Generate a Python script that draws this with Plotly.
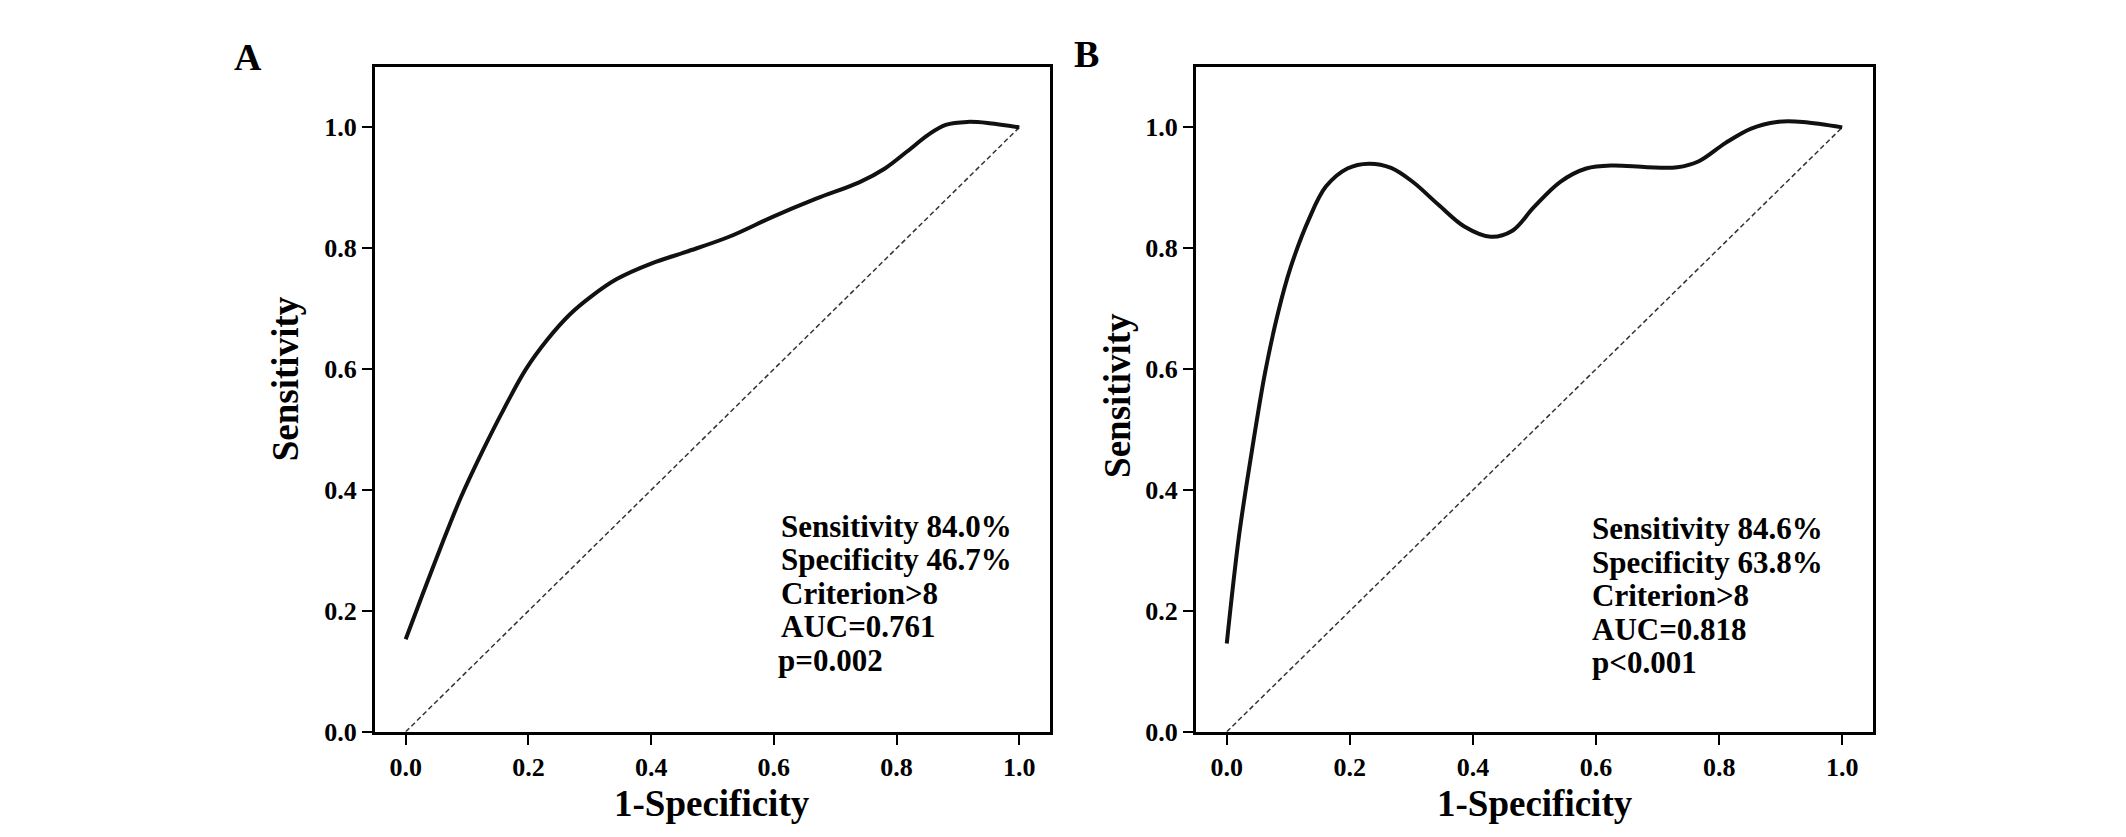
import plotly.graph_objects as go

W, H = 2126, 837

# ROC curve A
fpr_a = [0.0, 0.027, 0.062, 0.090, 0.126, 0.161, 0.196, 0.231, 0.267, 0.302, 0.344,
         0.401, 0.457, 0.527, 0.598, 0.669, 0.739, 0.781, 0.817, 0.852, 0.880,
         0.915, 0.951, 1.0]
tpr_a = [0.153, 0.226, 0.318, 0.388, 0.466, 0.536, 0.600, 0.649, 0.690, 0.720, 0.749,
         0.775, 0.794, 0.819, 0.852, 0.882, 0.909, 0.932, 0.960, 0.988, 1.004,
         1.009, 1.007, 1.0]

# ROC curve B
fpr_b = [0.0, 0.020, 0.041, 0.062, 0.083, 0.104, 0.133, 0.161, 0.196, 0.231, 0.267,
         0.302, 0.344, 0.386, 0.429, 0.464, 0.499, 0.542, 0.584, 0.626, 0.683,
         0.732, 0.767, 0.810, 0.852, 0.894, 0.936, 1.0]
tpr_b = [0.146, 0.325, 0.466, 0.593, 0.692, 0.769, 0.847, 0.902, 0.932, 0.940, 0.933,
         0.910, 0.872, 0.836, 0.819, 0.829, 0.868, 0.910, 0.932, 0.937, 0.934,
         0.934, 0.944, 0.974, 0.998, 1.009, 1.009, 1.0]

ref_line = [0.0, 1.0]
ticks = [0.0, 0.2, 0.4, 0.6, 0.8, 1.0]
tick_labels = ["0.0", "0.2", "0.4", "0.6", "0.8", "1.0"]

stats_a = ["Sensitivity 84.0%", "Specificity 46.7%", "Criterion>8", "AUC=0.761", "p=0.002"]
stats_b = ["Sensitivity 84.6%", "Specificity 63.8%", "Criterion>8", "AUC=0.818", "p<0.001"]

panel_labels = ["A", "B"]
x_title = "1-Specificity"
y_title = "Sensitivity"

FONT = "Liberation Serif, Times New Roman, serif"


def px(x):
    return x / W


def py(y):
    return 1 - y / H


fig = go.Figure()

for i, (fx, ty) in enumerate([(fpr_a, tpr_a), (fpr_b, tpr_b)]):
    xa = "x" if i == 0 else "x2"
    ya = "y" if i == 0 else "y2"
    fig.add_trace(go.Scatter(x=ref_line, y=ref_line, mode="lines", xaxis=xa, yaxis=ya,
                             line=dict(color="#333333", width=1.5, dash="5px,3px"),
                             showlegend=False, hoverinfo="skip"))
    fig.add_trace(go.Scatter(x=fx, y=ty, mode="lines", xaxis=xa, yaxis=ya,
                             line=dict(color="#111111", width=4, shape="spline", smoothing=1),
                             showlegend=False))

axis_style = dict(showline=True, linewidth=3, linecolor="black", mirror=True,
                  ticks="outside", ticklen=10, tickwidth=2, tickcolor="black",
                  showgrid=False, zeroline=False, tickvals=ticks, ticktext=tick_labels,
                  tickfont=dict(family=FONT, size=26, color="black", weight="bold"))

fig.update_layout(
    width=W, height=H,
    margin=dict(l=0, r=0, t=0, b=0),
    paper_bgcolor="white", plot_bgcolor="white",
    xaxis=dict(domain=[px(367), px(1042)], range=[-0.05, 1.05], anchor="y", **axis_style),
    yaxis=dict(domain=[py(737), py(60)], range=[0, 1.1], anchor="x", **axis_style),
    xaxis2=dict(domain=[px(1188), px(1865)], range=[-0.05, 1.05], anchor="y2", **axis_style),
    yaxis2=dict(domain=[py(737), py(60)], range=[0, 1.1], anchor="x2", **axis_style),
)

ann = []


def text(x, y, s, size, xanchor="left", angle=0):
    ann.append(dict(x=px(x), y=py(y), xref="paper", yref="paper", text=s, showarrow=False,
                    xanchor=xanchor, yanchor="middle", textangle=angle, borderpad=0,
                    font=dict(family=FONT, size=size, color="black", weight="bold")))


# panel letters
text(240, 50, panel_labels[0], 38, "center")
text(1078, 47, panel_labels[1], 38, "center")

# axis titles
text(704, 810, x_title, 37, "center")
text(1527, 810, x_title, 37, "center")
text(277, 378, y_title, 37, "center", -90)
text(1110, 395, y_title, 37, "center", -90)

# stats blocks, one line per annotation to keep the tight line spacing
for k, s in enumerate(stats_a):
    text(772 - (3 if k == 4 else 0), 528 + 34 * k, s, 31)
for k, s in enumerate(stats_b):
    text(1583, 530 + 34.2 * k, s, 31)

fig.update_layout(annotations=ann)

fig.write_html("out.html")
